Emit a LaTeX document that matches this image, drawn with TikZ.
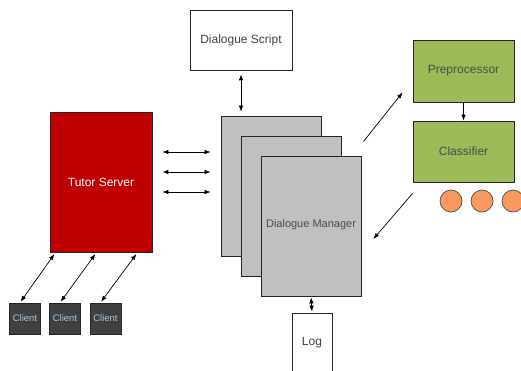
\documentclass[tikz,border=0pt]{standalone}
\usepackage{fontspec}
\setmainfont{Liberation Sans}
\usetikzlibrary{arrows.meta}
\definecolor{tutorred}{HTML}{C00000}
\definecolor{mgrgray}{HTML}{C0C0C0}
\definecolor{clsgreen}{HTML}{9BBB59}
\definecolor{dotorange}{HTML}{F9985F}
\definecolor{clientbg}{HTML}{404040}
\definecolor{clienttxt}{HTML}{A8C4E6}
\begin{document}
\begin{tikzpicture}[x=1pt, y=-1pt,
    box/.style={draw=black!85, line width=0.8pt, inner sep=0pt, font=\fontsize{12}{14}\selectfont},
    arr/.style={line width=0.7pt, {Latex[length=6pt,width=4.5pt]}-{Latex[length=6pt,width=4.5pt]}},
    onearr/.style={line width=0.7pt, -{Latex[length=6pt,width=4.5pt]}}]
  \useasboundingbox (0,0) rectangle (521,371);
  % dialogue script and log
  \node[box, minimum width=102, minimum height=60, text=black!75] (script) at (241,40) {Dialogue Script};
  \node[box, minimum width=40, minimum height=60, text=black!75] (log) at (312,343) {Log};
  % tutor server
  \node[box, fill=tutorred, minimum width=102, minimum height=140, text=white] (tutor) at (101,182) {Tutor Server};
  % dialogue manager stack
  \node[box, fill=mgrgray, minimum width=100, minimum height=140] (dm1) at (271,186) {};
  \node[box, fill=mgrgray, minimum width=100, minimum height=140] (dm2) at (291,206) {};
  \node[box, fill=mgrgray, minimum width=100, minimum height=140, text=black!70,
        font=\fontsize{11}{13}\selectfont] (dm3) at (311,226) {\raisebox{4pt}{Dialogue Manager}};
  % classifier side
  \node[box, fill=clsgreen, minimum width=101, minimum height=62, text=black!70] (pre) at (463.5,71) {Preprocessor};
  \node[box, fill=clsgreen, minimum width=101, minimum height=61, text=black!70] (cls) at (463.5,151.5) {Classifier};
  \foreach \i/\x in {1/451,2/482,3/513} {
    \node[draw=black!70, line width=0.7pt, fill=dotorange, circle, minimum size=22, inner sep=0pt] (dot\i) at (\x,201) {};
  }
  % clients
  \foreach \i/\x in {1/25,2/65,3/105.5} {
    \node[box, fill=clientbg, minimum width=31, minimum height=31, text=clienttxt,
          font=\fontsize{9.5}{11}\selectfont] (client\i) at (\x,318.5) {Client};
  }
  % connectors
  \draw[arr, shorten <=4pt, shorten >=4pt] (script.south) -- (script.south |- dm1.north);
  \draw[arr, shorten <=1pt, shorten >=1pt] (dm3.south) -- (log.north);
  \foreach \dy in {30,10,-10} {
    \draw[arr, shorten <=10pt, shorten >=10pt] ([yshift=\dy]tutor.east) -- ([yshift=\dy]tutor.east -| dm1.west);
  }
  \foreach \i/\dx in {1/6,2/47,3/88} {
    \draw[arr, shorten <=2pt, shorten >=1pt] ([xshift=\dx]tutor.south west) -- ([xshift=-5]client\i.north);
  }
  \draw[onearr] (pre.south) -- (cls.north);
  \draw[onearr] ([shift={(2,-14)}]dm3.north east) -- ([shift={(-10,-10)}]pre.south west);
  \draw[onearr] ([shift={(0,11)}]cls.south west) -- ([shift={(12,13)}]dm3.east);
\end{tikzpicture}
\end{document}
